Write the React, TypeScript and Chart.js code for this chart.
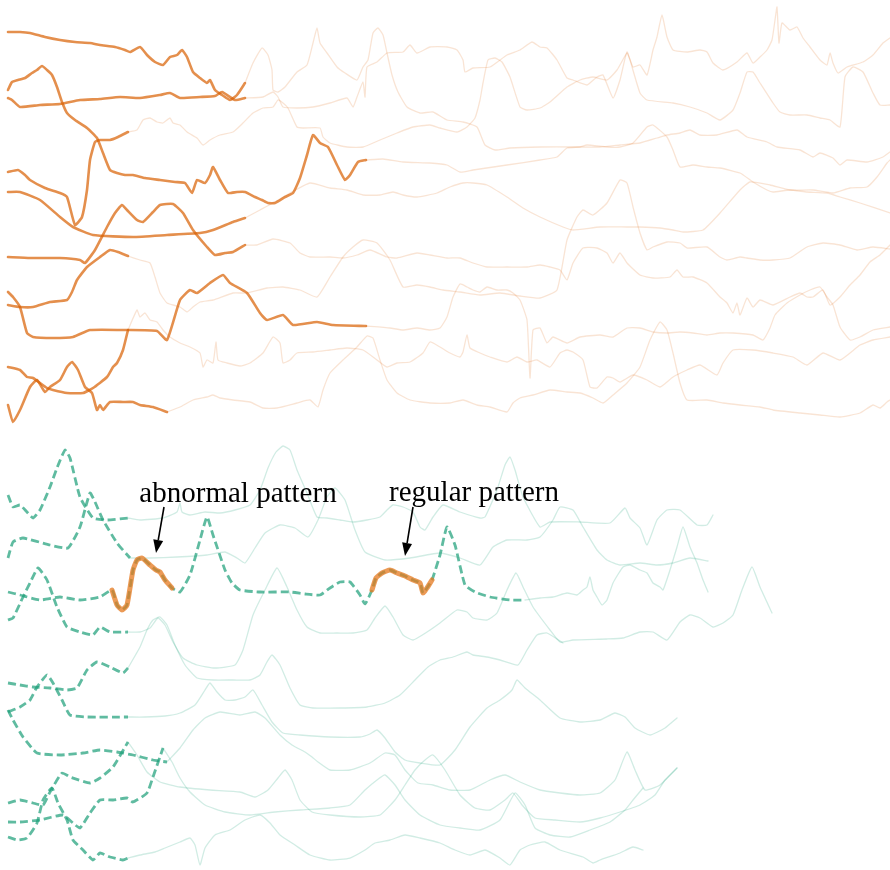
import React, { useEffect, useRef } from "react";
import { Chart, registerables } from "chart.js";

Chart.register(...registerables);

type P = [number, number];

// ---------- TOP PANEL (orange): observed sequences; bold part = observed prefix ----------
const top1: P[] = [[8,32],[20,32],[30,33],[45,37],[60,40],[75,42],[90,43],[100,45],[115,47],[125,50],[130,52],[140,47],[147,55],[155,62],[163,65],[170,57],[177,55],[182,50],[187,57],[193,72],[200,78],[207,83],[210,80],[215,90],[222,95],[230,100],[237,95],[245,83],
[253,63],[262,48],[268,55],[272,70],[273,90],[278,92],[285,87],[297,72],[307,65],[313,43],[317,28],[320,43],[327,53],[337,67],[345,73],[357,80],[363,67],[368,60],[373,33],[378,28],[383,35],[387,53],[392,75],[398,92],[407,107],[420,113],[433,112],[447,120],[463,122],[477,127],[485,145],[495,150],[510,148],[540,147],[573,147],[600,147],[620,145],[640,143],[657,138],[667,135],[680,133],[690,130],[700,135],[717,135],[737,130],[747,137],[767,142],[777,147],[800,150],[813,157],[820,153],[833,158],[840,165],[847,160],[867,162],[883,157],[890,152]];
const top2: P[] = [[8,90],[12,82],[18,80],[25,78],[32,73],[37,70],[42,66],[47,70],[52,75],[57,87],[62,102],[67,113],[75,120],[87,128],[97,138],[103,153],[110,170],[117,173],[125,175],[133,175],[145,178],[160,180],[175,182],[185,183],[192,193],[197,180],[205,183],[210,175],[213,167],[220,180],[228,193],[237,192],[245,192],[255,197],[262,200],[268,203],[275,203],[285,197],[293,193],[300,178],[307,155],[313,135],[320,143],[328,147],[337,165],[345,180],[350,175],[358,162],[366,160],
[383,159],[403,162],[430,163],[447,165],[460,172],[473,170],[507,165],[540,160],[557,157],[567,148],[580,147],[587,145],[607,147],[620,147],[633,143],[647,127],[653,125],[667,137],[673,150],[680,167],[693,165],[707,167],[720,168],[740,173],[753,182],[767,190],[773,192],[790,190],[807,192],[827,193],[840,197],[860,203],[890,213]];
const top3: P[] = [[8,98],[12,100],[20,107],[40,105],[60,104],[80,100],[100,99],[120,97],[140,98],[160,95],[170,93],[180,98],[200,97],[215,96],[222,92],[235,100],[245,98],
[263,97],[273,92],[278,97],[283,107],[297,108],[313,107],[330,103],[347,98],[353,107],[357,97],[363,82],[365,97],[367,67],[377,62],[387,53],[403,52],[410,45],[417,53],[430,47],[447,47],[457,50],[463,60],[465,72],[473,68],[490,67],[507,55],[520,50],[532,42],[540,47],[547,48],[557,60],[567,78],[573,80],[587,85],[597,77],[603,75],[613,98],[620,80],[627,52],[633,67],[640,65],[647,75],[653,50],[657,37],[662,15],[667,37],[673,50],[687,52],[700,50],[707,52],[713,63],[723,70],[737,62],[747,53],[753,63],[760,57],[767,50],[772,40],[775,20],[777,7],[779,43],[782,23],[790,30],[797,27],[803,38],[810,47],[820,60],[827,65],[830,53],[833,63],[838,73],[847,67],[863,62],[873,55],[883,43],[890,38]];
const top4: P[] = [[8,172],[18,170],[25,175],[30,180],[45,188],[60,193],[67,197],[75,225],[82,217],[87,190],[90,160],[95,142],[100,140],[110,140],[118,137],[128,132],
[137,130],[143,120],[150,118],[157,122],[163,123],[170,118],[173,123],[180,125],[187,132],[197,138],[203,145],[210,140],[220,135],[233,132],[243,123],[253,113],[263,108],[273,107],[278,100],[283,103],[288,108],[297,127],[303,128],[320,128],[323,137],[330,143],[347,147],[363,147],[380,140],[397,133],[413,127],[430,125],[440,128],[457,132],[467,127],[475,118],[480,100],[483,83],[488,60],[495,58],[502,62],[510,77],[520,107],[527,110],[540,108],[550,102],[567,87],[580,80],[593,77],[607,80],[617,70],[627,53],[630,60],[640,93],[647,100],[673,103],[690,107],[707,113],[720,120],[733,110],[740,93],[747,72],[753,72],[760,83],[773,103],[780,112],[790,115],[807,115],[820,118],[830,120],[840,127],[845,77],[853,67],[863,72],[873,93],[880,105],[890,105]];
const top5: P[] = [[8,192],[20,192],[40,200],[60,217],[73,227],[93,235],[133,237],[167,235],[200,233],[213,230],[233,222],[245,218],
[260,210],[273,203],[290,193],[310,183],[330,188],[347,190],[363,195],[380,195],[393,192],[403,195],[417,197],[437,193],[450,187],[463,183],[473,183],[487,185],[507,197],[523,208],[540,217],[563,227],[573,230],[600,227],[627,227],[640,227],[660,228],[673,230],[683,232],[703,230],[720,213],[740,190],[750,182],[770,185],[790,190],[813,190],[833,193],[850,188],[867,187],[877,177],[887,163],[890,160]];
const top6: P[] = [[8,257],[30,258],[60,258],[80,260],[85,263],[95,250],[107,227],[115,213],[122,205],[127,210],[137,220],[143,222],[153,212],[160,205],[173,204],[183,213],[193,230],[207,247],[215,255],[225,253],[233,252],[245,245],
[257,245],[273,239],[290,243],[300,253],[310,257],[330,257],[343,258],[357,255],[370,250],[387,257],[397,258],[417,253],[430,255],[447,258],[460,258],[473,263],[487,267],[507,267],[527,267],[540,265],[550,267],[560,270],[567,280],[573,263],[583,248],[597,248],[607,253],[613,263],[620,253],[627,263],[640,275],[653,278],[670,277],[677,270],[683,277],[693,277],[707,283],[720,297],[727,303],[733,313],[737,303],[740,315],[747,298],[753,307],[760,300],[773,305],[790,297],[800,293],[807,297],[813,297],[823,290],[830,305],[840,297],[850,285],[860,275],[870,262],[880,255],[890,245]];
const top7: P[] = [[8,292],[13,297],[20,307],[27,333],[33,337],[53,338],[73,337],[90,330],[127,330],[157,331],[167,340],[180,300],[190,290],[197,293],[210,283],[223,275],[230,283],[247,293],[260,313],[267,320],[283,315],[293,325],[317,322],[333,325],[366,326],
[390,328],[403,330],[417,328],[430,330],[440,328],[447,317],[453,297],[460,284],[467,287],[473,290],[480,292],[487,287],[497,290],[507,290],[513,293],[520,300],[527,320],[530,378],[533,330],[540,328],[547,343],[553,337],[567,343],[580,337],[600,335],[613,337],[627,328],[640,328],[653,332],[667,333],[680,332],[693,333],[707,335],[720,333],[733,333],[753,335],[763,340],[770,328],[775,315],[787,303],[800,295],[810,290],[820,287],[827,297],[833,305],[840,327],[850,340],[860,337],[873,330],[890,327]];
const top8: P[] = [[8,305],[20,307],[33,307],[50,302],[67,300],[72,292],[77,280],[87,267],[100,257],[110,250],[118,252],[128,256],
[140,260],[150,263],[155,277],[160,293],[167,303],[180,307],[187,312],[193,307],[200,302],[213,300],[233,293],[247,293],[267,288],[283,287],[300,290],[317,297],[330,277],[343,257],[353,247],[363,240],[377,243],[390,260],[403,287],[417,285],[430,287],[443,290],[460,292],[480,295],[500,293],[520,296],[540,298],[557,290],[567,240],[577,217],[583,210],[593,215],[607,203],[620,180],[627,183],[633,207],[640,233],[647,250],[653,247],[667,242],[680,243],[687,248],[707,247],[720,257],[727,260],[740,257],[747,258],[760,260],[773,260],[790,258],[807,247],[823,243],[840,245],[857,250],[873,247],[890,249]];
const top9: P[] = [[8,367],[20,370],[27,377],[33,378],[47,388],[53,390],[67,393],[83,393],[93,388],[107,377],[113,367],[117,363],[123,350],[128,330],
[137,310],[140,317],[145,313],[150,320],[157,322],[163,330],[170,337],[180,343],[190,347],[200,353],[203,367],[207,360],[213,363],[216,342],[218,360],[227,363],[240,366],[250,363],[263,353],[273,337],[280,343],[283,363],[290,360],[297,353],[313,352],[330,350],[347,348],[363,350],[377,360],[387,367],[397,363],[410,362],[423,353],[430,342],[440,347],[450,353],[460,357],[463,352],[467,335],[470,348],[480,353],[490,357],[507,362],[517,357],[527,362],[537,360],[550,367],[560,353],[567,350],[573,352],[583,360],[590,387],[597,388],[607,377],[613,378],[620,382],[633,375],[647,380],[660,387],[673,377],[687,370],[700,365],[717,375],[723,363],[733,350],[753,350],[773,353],[793,357],[807,365],[823,353],[840,360],[860,345],[873,340],[890,337]];
const top10: P[] = [[8,405],[13,422],[20,410],[30,387],[37,380],[45,392],[50,387],[60,380],[67,367],[72,362],[78,370],[85,387],[92,393],[97,410],[100,405],[103,410],[110,402],[123,402],[133,402],[140,405],[153,407],[167,412],
[180,407],[193,400],[207,397],[213,395],[220,398],[233,400],[250,402],[263,408],[277,408],[297,403],[310,400],[318,407],[323,390],[330,373],[343,360],[357,347],[367,336],[373,338],[380,360],[387,380],[397,393],[410,400],[430,403],[450,403],[463,400],[477,405],[490,407],[507,412],[513,403],[520,398],[533,395],[550,390],[567,392],[580,393],[593,398],[603,403],[613,395],[627,383],[640,367],[650,340],[660,322],[667,330],[673,353],[680,383],[687,400],[707,400],[723,403],[740,405],[760,407],[773,410],[800,413],[820,415],[840,417],[860,413],[873,405],[880,408],[887,402],[890,400]];

const topSeries: P[][] = [top1, top2, top3, top4, top5, top6, top7, top8, top9, top10];
const topObservedEnd: number[] = [245, 366, 245, 128, 245, 245, 366, 128, 128, 167];

// ---------- BOTTOM PANEL (green): observed prefix dashed ----------
const bot1: P[] = [[8,495],[13,507],[20,505],[27,512],[33,518],[40,510],[50,487],[57,468],[65,450],[70,458],[80,497],[93,518],[107,520],[128,518],
[140,520],[163,518],[177,512],[180,503],[182,512],[190,515],[205,512],[220,513],[235,510],[250,505],[260,490],[268,468],[276,452],[283,446],[290,450],[297,470],[307,493],[317,517],[327,518],[340,520],[353,522],[367,520],[380,517],[387,510],[393,505],[403,507],[413,512],[420,527],[425,530],[433,517],[443,505],[460,512],[480,518],[485,517],[497,490],[505,465],[510,457],[515,470],[523,497],[540,527],[550,522],[580,522],[610,523],[625,508],[630,518],[640,528],[647,545],[657,520],[667,510],[680,510],[697,525],[707,525],[713,515]];
const bot2: P[] = [[8,558],[13,542],[23,538],[50,545],[68,548],[80,527],[90,493],[95,502],[103,520],[117,543],[130,558],
[150,558],[177,557],[207,555],[225,552],[237,558],[245,563],[255,548],[265,533],[280,525],[295,528],[308,537],[318,520],[327,497],[335,488],[345,500],[355,530],[365,552],[385,560],[410,558],[440,553],[460,558],[480,565],[493,547],[507,540],[527,540],[540,537],[553,520],[560,507],[573,510],[583,527],[597,550],[607,560],[620,565],[640,563],[657,565],[673,563],[690,558],[708,561]];
const bot3: P[] = [[8,592],[20,595],[40,600],[60,597],[80,600],[100,597],[112,590],[117,605],[122,610],[127,605],[133,570],[137,560],[142,558],[150,565],[156,570],[160,572],[165,580],[172,588],[180,592],[190,575],[200,540],[207,517],[213,535],[225,570],[232,583],[240,590],[260,592],[290,592],[305,594],[320,595],[330,588],[340,582],[350,582],[360,595],[365,604],[372,590],[376,578],[382,573],[390,570],[397,573],[405,576],[413,580],[420,583],[423,593],[427,588],[432,580],[440,555],[447,527],[455,545],[465,585],[475,592],[490,597],[510,600],[525,600],
[540,598],[553,597],[567,593],[577,595],[583,590],[587,587],[590,577],[593,590],[597,597],[602,605],[607,600],[613,583],[623,567],[630,565],[640,570],[647,573],[653,583],[660,587],[663,590],[670,570],[677,547],[683,527],[690,547],[697,563],[703,580],[708,592]];
const bot4: P[] = [[8,620],[13,618],[23,597],[30,583],[38,568],[47,580],[57,607],[67,627],[80,632],[93,635],[100,627],[110,632],[128,632],
[140,632],[150,628],[158,618],[165,625],[173,642],[183,658],[197,665],[215,668],[235,665],[243,650],[253,615],[265,590],[277,568],[287,587],[297,610],[307,627],[320,633],[337,633],[353,633],[367,630],[375,618],[385,606],[393,617],[403,635],[413,640],[427,632],[440,623],[457,610],[467,612],[473,618],[487,620],[497,613],[507,590],[516,573],[523,587],[533,607],[550,630],[560,642],[573,640],[607,639],[623,638],[640,632],[653,632],[667,640],[680,622],[690,615],[700,618],[713,627],[723,623],[733,615],[742,590],[752,567],[760,587],[772,613]];
const bot5: P[] = [[8,683],[20,685],[33,687],[50,688],[67,690],[77,688],[87,670],[97,662],[110,667],[123,673],[128,668],
[140,647],[147,630],[153,620],[160,617],[167,625],[175,645],[185,665],[197,678],[213,680],[233,680],[250,680],[260,675],[267,662],[272,655],[280,665],[290,688],[300,705],[313,708],[340,708],[367,707],[385,703],[400,695],[415,680],[428,667],[440,660],[453,657],[467,652],[473,655],[487,657],[500,660],[518,665],[527,650],[537,635],[547,633],[563,643]];
const bot6: P[] = [[8,712],[20,707],[30,700],[37,687],[47,675],[53,683],[62,700],[70,715],[87,717],[128,717],
[145,717],[165,716],[180,713],[195,705],[205,690],[210,683],[217,692],[225,700],[235,700],[245,697],[253,690],[262,705],[272,722],[283,733],[300,735],[330,737],[360,737],[370,734],[377,730],[385,738],[395,752],[405,760],[420,763],[440,765],[455,750],[470,727],[487,708],[500,700],[512,690],[517,680],[525,688],[540,700],[560,718],[580,722],[600,720],[615,713],[625,717],[635,728],[650,735],[665,728],[677,718]];
const bot7: P[] = [[8,710],[13,720],[23,737],[37,753],[60,755],[83,753],[100,750],[117,752],[133,755],[153,760],[167,762],
[180,748],[193,730],[205,718],[220,712],[240,715],[255,712],[265,718],[280,735],[292,745],[305,752],[312,757],[318,762],[330,770],[350,770],[370,763],[385,753],[395,755],[405,770],[418,783],[433,785],[450,790],[470,790],[490,780],[505,775],[520,782],[540,790],[560,793],[580,795],[600,793],[615,780],[627,752],[635,770],[645,790],[660,785],[677,768]];
const bot8: P[] = [[8,803],[20,800],[33,803],[43,805],[50,792],[62,773],[70,777],[90,783],[100,778],[113,767],[128,742],
[137,755],[147,772],[160,782],[180,787],[210,790],[240,792],[255,797],[268,790],[278,778],[285,770],[292,780],[300,800],[312,812],[330,815],[360,817],[380,815],[395,800],[405,785],[415,770],[425,760],[433,755],[445,770],[460,795],[475,808],[490,810],[505,800],[513,793],[522,805],[535,818],[555,820],[580,822],[600,818],[620,812],[640,805],[655,795],[665,780],[677,768]];
const bot9: P[] = [[8,822],[20,822],[40,820],[63,815],[73,823],[80,828],[90,813],[100,800],[113,800],[127,798],[133,802],[147,793],[153,777],[163,748],
[172,762],[180,778],[190,792],[205,805],[225,812],[250,815],[275,812],[300,810],[330,808],[350,805],[365,790],[377,780],[385,775],[395,785],[405,800],[420,815],[440,825],[460,828],[480,830],[500,820],[515,793],[525,805],[535,828],[550,835],[570,837],[590,830],[610,822],[625,810],[633,800],[643,788]];
const bot10: P[] = [[8,837],[17,840],[27,838],[37,823],[43,800],[52,788],[58,803],[67,820],[73,840],[83,850],[93,860],[100,853],[110,857],[123,860],[128,858],
[140,855],[155,852],[165,848],[180,842],[190,838],[195,845],[200,865],[205,848],[215,835],[230,830],[245,820],[260,815],[270,823],[280,835],[295,845],[310,855],[330,860],[350,858],[365,850],[375,843],[390,840],[405,835],[420,838],[440,843],[455,850],[470,855],[485,850],[500,858],[510,865],[520,850],[530,845],[545,842],[560,850],[583,857],[593,863],[600,860],[620,853],[633,847],[643,850]];

const bottomSeries: P[][] = [bot1, bot2, bot3, bot4, bot5, bot6, bot7, bot8, bot9, bot10];
const bottomObservedEnd: number[] = [128, 130, 525, 128, 128, 128, 167, 128, 163, 128];

// highlighted windows on series bot3
const highlightSeries = 2;
const highlightRanges: [number, number][] = [[112, 172], [372, 432]];

// annotations
const annotationLabels = ["abnormal pattern", "regular pattern"];
const annotationLayout = [
  { tx: 238, ty: 502, x0: 164, y0: 507, x1: 156, y1: 553 },
  { tx: 474, ty: 501, x0: 413, y0: 507, x1: 405, y1: 556 },
];

const ORANGE = "rgba(217,95,2,0.7)";
const ORANGE_FAINT = "rgba(217,95,2,0.17)";
const GREEN = "rgba(27,158,119,0.7)";
const GREEN_FAINT = "rgba(27,158,119,0.2)";
const HIGHLIGHT = "rgba(230,120,30,0.75)";

const toXY = (pts: P[]) => pts.map(([x, y]) => ({ x, y }));

export default function App() {
  const ref = useRef<HTMLCanvasElement>(null);
  useEffect(() => {
    if (!ref.current) return;
    const datasets: any[] = [];
    const base = { pointRadius: 0, pointHoverRadius: 0, fill: false, tension: 0.15, borderJoinStyle: "round", borderCapStyle: "round" };
    topSeries.forEach((s, i) => {
      const cut = topObservedEnd[i];
      datasets.push({ ...base, data: toXY(s.filter(p => p[0] >= cut)), borderColor: ORANGE_FAINT, borderWidth: 1.3, order: 3 });
      datasets.push({ ...base, data: toXY(s.filter(p => p[0] <= cut)), borderColor: ORANGE, borderWidth: 2.6, order: 2 });
    });
    bottomSeries.forEach((s, i) => {
      const cut = bottomObservedEnd[i];
      datasets.push({ ...base, data: toXY(s.filter(p => p[0] >= cut)), borderColor: GREEN_FAINT, borderWidth: 1.3, order: 3 });
      datasets.push({ ...base, data: toXY(s.filter(p => p[0] <= cut)), borderColor: GREEN, borderWidth: 2.8, borderDash: [8, 4], borderCapStyle: "butt", order: 2 });
    });
    highlightRanges.forEach(([a, b]) => {
      datasets.push({ ...base, data: toXY(bottomSeries[highlightSeries].filter(p => p[0] >= a && p[0] <= b)), borderColor: HIGHLIGHT, borderWidth: 5, order: 1 });
    });

    const annotate = {
      id: "annotate",
      afterDatasetsDraw(chart: any) {
        const { ctx, scales } = chart;
        const X = (v: number) => scales.x.getPixelForValue(v);
        const Y = (v: number) => scales.y.getPixelForValue(v);
        ctx.save();
        ctx.fillStyle = "#000";
        ctx.strokeStyle = "#000";
        ctx.font = '29px "Liberation Serif", "Times New Roman", serif';
        ctx.textAlign = "center";
        ctx.textBaseline = "alphabetic";
        annotationLayout.forEach((a, i) => {
          ctx.fillText(annotationLabels[i], X(a.tx), Y(a.ty));
          const x0 = X(a.x0), y0 = Y(a.y0), x1 = X(a.x1), y1 = Y(a.y1);
          const ang = Math.atan2(y1 - y0, x1 - x0);
          const hl = 13, hw = 5;
          const bx = x1 - hl * Math.cos(ang), by = y1 - hl * Math.sin(ang);
          ctx.lineWidth = 1.6;
          ctx.beginPath();
          ctx.moveTo(x0, y0);
          ctx.lineTo(bx, by);
          ctx.stroke();
          ctx.beginPath();
          ctx.moveTo(x1, y1);
          ctx.lineTo(bx + hw * Math.sin(ang), by - hw * Math.cos(ang));
          ctx.lineTo(bx - hw * Math.sin(ang), by + hw * Math.cos(ang));
          ctx.closePath();
          ctx.fill();
        });
        ctx.restore();
      },
    };

    const chart = new Chart(ref.current, {
      type: "line",
      data: { datasets },
      options: {
        animation: false,
        responsive: false,
        layout: { padding: 0 },
        plugins: { legend: { display: false }, tooltip: { enabled: false } },
        events: [],
        scales: {
          x: { type: "linear", min: 0, max: 890, display: false },
          y: { type: "linear", min: 0, max: 870, reverse: true, display: false },
        },
      },
      plugins: [annotate],
    });
    return () => chart.destroy();
  }, []);
  return (
    <div style={{ position: "absolute", left: 0, top: 0, width: 890, height: 870, background: "#fff" }}>
      <canvas ref={ref} width={890} height={870} style={{ display: "block" }} />
    </div>
  );
}
